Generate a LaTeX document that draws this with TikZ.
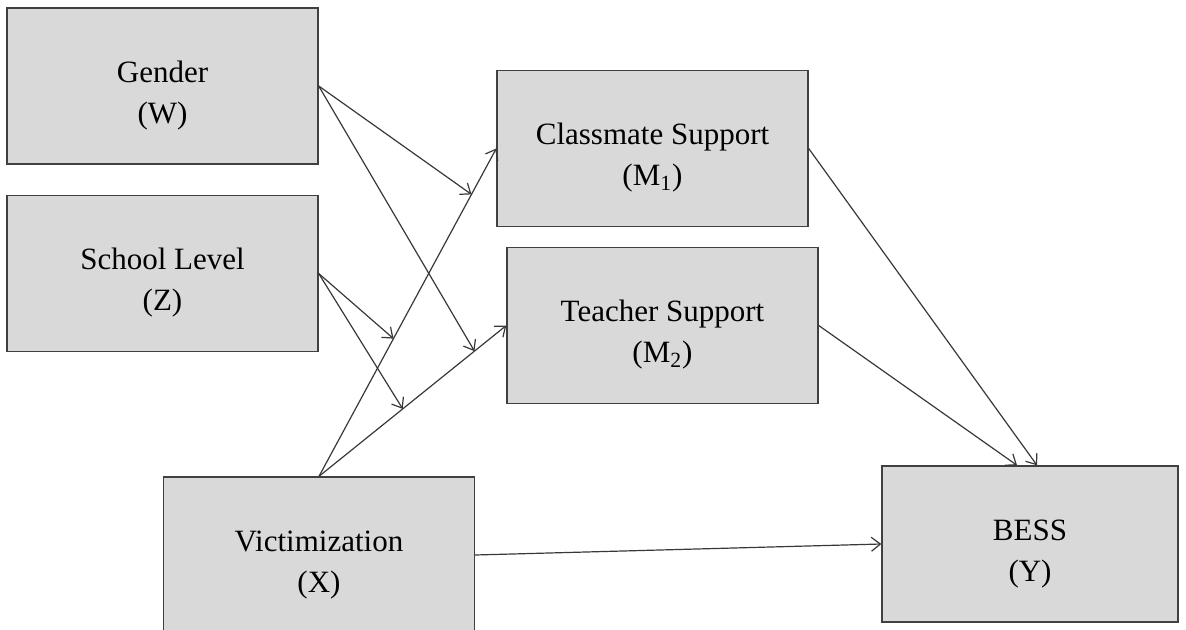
\documentclass[tikz,border=0pt]{standalone}
\usepackage{fontspec}
\setmainfont{Liberation Serif}
\usetikzlibrary{positioning,calc,arrows.meta}
\definecolor{boxfill}{HTML}{D9D9D9}
\definecolor{boxline}{HTML}{404040}
\newcommand{\twoline}[2]{\rule{0pt}{20pt}#1\\#2}
\tikzset{block/.style={draw=boxline,fill=boxfill,line width=0.7pt,minimum width=155.5pt,minimum height=78pt,align=center,font=\fontsize{15.5}{20.5}\selectfont},
         line/.style={line width=0.6pt,draw=black!78}
}
\tikzstyle{arrow} = [line,-{Straight Barb[length=4.5pt,width=7pt]}]

\begin{document}
\begin{tikzpicture}[x=0.5pt,y=-0.5pt]
\useasboundingbox (0,0) rectangle (1186,630);

\node[block] (gender) at (162.5,86) {\twoline{Gender}{(W)}};
\node[block] (school) at (162.5,273.5) {\twoline{School Level}{(Z)}};
\node[block] (classmate) at (652.5,148.5) {\twoline{Classmate Support}{(M\textsubscript{1})}};
\node[block] (teacher) at (662.5,325.5) {\twoline{Teacher Support}{(M\textsubscript{2})}};
\node[block] (vict) at (319,555) {\twoline{Victimization}{(X)}};
\node[block,minimum width=148pt] (bess) at (1030,544) {\twoline{BESS}{(Y)}};

% points on the X -> M paths
\path (vict.north) -- (classmate.west) coordinate[pos=0.86] (wm1) coordinate[pos=0.42] (zm1);
\path (vict.north) -- (teacher.west) coordinate[pos=0.83] (wm2) coordinate[pos=0.447] (zm2);

\draw[arrow] (vict.north)--(classmate.west);
\draw[arrow] (vict.north)--(teacher.west);
\draw[arrow] (vict.east)--(bess.west);
\draw[arrow] (classmate.east)--([xshift=3.5pt]bess.north);
\draw[arrow] (teacher.east)--([xshift=-6.5pt]bess.north);
\draw[arrow] (gender.east)--(wm1);
\draw[arrow] (gender.east)--(wm2);
\draw[arrow] (school.east)--(zm1);
\draw[arrow] (school.east)--(zm2);

\end{tikzpicture}
\end{document}
